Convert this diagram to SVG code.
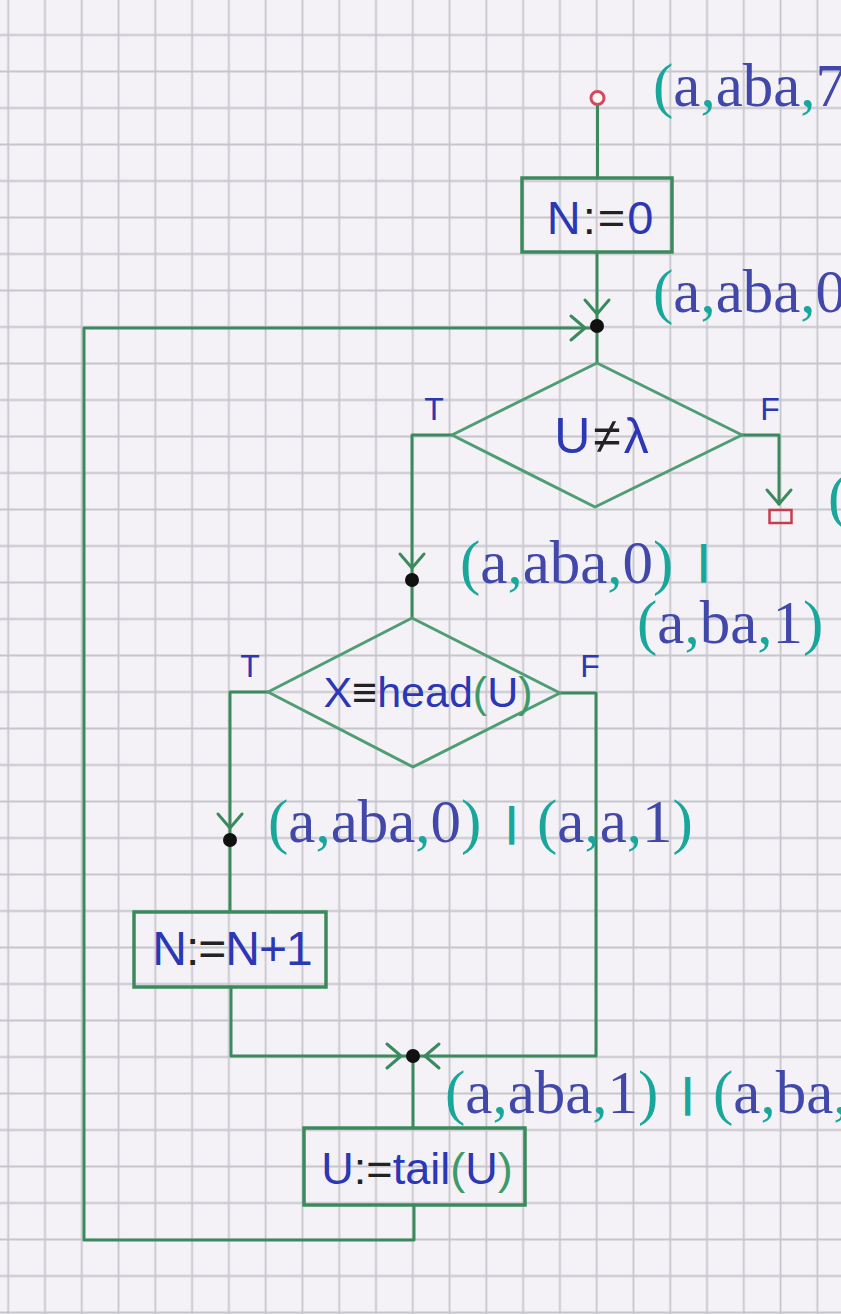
<svg xmlns="http://www.w3.org/2000/svg" width="841" height="1314" viewBox="0 0 841 1314">
  <defs>
    <pattern id="grid" patternUnits="userSpaceOnUse" x="-10.19" y="16.75" width="36.78" height="36.5">
      <path d="M18.39,0 V36.5 M0,18.25 H36.78" fill="none" stroke="#c6c5cc" stroke-width="1.8"/>
    </pattern>
    <marker id="arr" markerUnits="userSpaceOnUse" markerWidth="40" markerHeight="40" viewBox="-20 -20 40 40" refX="12" refY="0" orient="auto" overflow="visible">
      <path d="M-14,-12 L0,0 L-14,12" fill="none" stroke="#3b8a5e" stroke-width="3" stroke-linecap="round" stroke-linejoin="round"/>
    </marker>
    <marker id="arr0" markerUnits="userSpaceOnUse" markerWidth="40" markerHeight="40" viewBox="-20 -20 40 40" refX="0" refY="0" orient="auto" overflow="visible">
      <path d="M-14,-12 L0,0 L-14,12" fill="none" stroke="#3b8a5e" stroke-width="3" stroke-linecap="round" stroke-linejoin="round"/>
    </marker>
  </defs>
  <style>
    .ln { fill: none; stroke: #3b8a5e; stroke-width: 3; stroke-linejoin: round; stroke-linecap: round; }
    .box { fill: none; stroke: #3b8a5e; stroke-width: 3.5; }
    .dia { fill: none; stroke: #4f9d74; stroke-width: 3; stroke-linejoin: round; }
    .dot { fill: #111; }
    .hw { font-family: "Liberation Sans", "DejaVu Sans", sans-serif; fill: #2b37b4; text-anchor: middle; }
    .blk { fill: #222; }
    .grn { fill: #3f9a6a; }
    .lbl { font-family: "Liberation Serif", "Times New Roman", serif; font-size: 61px; fill: #4148a9; }
    .t { fill: #19a79c; }
    .bar { font-family: "Liberation Sans", sans-serif; font-weight: bold; font-size: 40px; fill: #19a79c; }
  </style>

  <rect x="0" y="0" width="841" height="1314" fill="#f4f2f6"/>
  <rect x="0" y="0" width="841" height="1314" fill="url(#grid)"/>

  <g id="connectors">
    <path class="ln" d="M597.5,105 V178"/>
    <path class="ln" d="M597,252 V326" marker-end="url(#arr)"/>
    <path class="ln" d="M597,326 V363"/>
    <path class="ln" d="M452,435 H412 V580" marker-end="url(#arr)"/>
    <path class="ln" d="M742,435 H779 V504" marker-end="url(#arr0)"/>
    <path class="ln" d="M412,580 V618"/>
    <path class="ln" d="M268,692 H230 V840" marker-end="url(#arr)"/>
    <path class="ln" d="M230,840 V911"/>
    <path class="ln" d="M231,987 V1056 H413" marker-end="url(#arr)"/>
    <path class="ln" d="M560,693 H596 V1056 H413" marker-end="url(#arr)"/>
    <path class="ln" d="M413,1056 V1128"/>
    <path class="ln" d="M414,1205 V1240 H84 V328 H597" marker-end="url(#arr)"/>
  </g>

  <g id="start">
    <circle cx="597.5" cy="98" r="6.5" fill="#fbf7f8" stroke="#d24a5c" stroke-width="3"/>
  </g>

  <g id="init">
    <rect class="box" x="522" y="178" width="150" height="74"/>
    <text class="hw" x="601" y="234" font-size="47" letter-spacing="2">N<tspan class="blk">:=</tspan>0</text>
  </g>

  <g id="j1"><circle class="dot" cx="597" cy="326" r="7"/></g>

  <g id="cond1">
    <polygon class="dia" points="597,363 742,435 595,507 452,435"/>
    <text class="hw" x="603" y="453" font-size="50" letter-spacing="3">U<tspan class="blk">≠</tspan>λ</text>
    <text class="hw" x="434" y="420" font-size="32">T</text>
    <text class="hw" x="770" y="420" font-size="32">F</text>
  </g>

  <g id="end">
    <rect x="769.5" y="510" width="22" height="13" fill="none" stroke="#c83c50" stroke-width="2.5"/>
  </g>

  <g id="j2"><circle class="dot" cx="412" cy="580" r="7"/></g>

  <g id="cond2">
    <polygon class="dia" points="412,618 560,693 413,767 268,692"/>
    <text class="hw" x="428" y="707" font-size="43">X<tspan class="blk">≡</tspan>head<tspan class="grn">(</tspan>U<tspan class="grn">)</tspan></text>
    <text class="hw" x="250" y="677" font-size="32">T</text>
    <text class="hw" x="590" y="677" font-size="32">F</text>
  </g>

  <g id="j3"><circle class="dot" cx="230" cy="840" r="7"/></g>

  <g id="incr">
    <rect class="box" x="134" y="912" width="192" height="75"/>
    <text class="hw" x="232" y="965" font-size="48" letter-spacing="-1">N<tspan class="blk">:=</tspan>N+1</text>
  </g>

  <g id="j4"><circle class="dot" cx="413" cy="1056" r="7"/></g>

  <g id="tail">
    <rect class="box" x="304" y="1128" width="221" height="77"/>
    <text class="hw" x="417" y="1184" font-size="45">U<tspan class="blk">:=</tspan>tail<tspan class="grn">(</tspan>U<tspan class="grn">)</tspan></text>
  </g>

  <g id="annotations">
    <text class="lbl" x="653" y="106"><tspan class="t">(</tspan>a<tspan class="t">,</tspan>aba<tspan class="t">,</tspan>7</text>
    <text class="lbl" x="653" y="312"><tspan class="t">(</tspan>a<tspan class="t">,</tspan>aba<tspan class="t">,</tspan>0</text>
    <text class="lbl" x="828" y="517"><tspan class="t">(</tspan></text>
    <text class="lbl" x="460" y="583"><tspan class="t">(</tspan>a<tspan class="t">,</tspan>aba<tspan class="t">,</tspan>0<tspan class="t">)</tspan> <tspan class="bar" x="698" y="574" font-size="46">|</tspan></text>
    <text class="lbl" x="637" y="643"><tspan class="t">(</tspan>a<tspan class="t">,</tspan>ba<tspan class="t">,</tspan>1<tspan class="t">)</tspan></text>
    <text class="lbl" x="268" y="842"><tspan class="t">(</tspan>a<tspan class="t">,</tspan>aba<tspan class="t">,</tspan>0<tspan class="t">)</tspan> <tspan class="bar" x="506" y="836">|</tspan> <tspan class="t" x="537" y="842">(</tspan>a<tspan class="t">,</tspan>a<tspan class="t">,</tspan>1<tspan class="t">)</tspan></text>
    <text class="lbl" x="445" y="1113"><tspan class="t">(</tspan>a<tspan class="t">,</tspan>aba<tspan class="t">,</tspan>1<tspan class="t">)</tspan> <tspan class="bar" x="682" y="1107">|</tspan> <tspan class="t" x="713" y="1113">(</tspan>a<tspan class="t">,</tspan>ba<tspan class="t">,</tspan></text>
  </g>
</svg>
